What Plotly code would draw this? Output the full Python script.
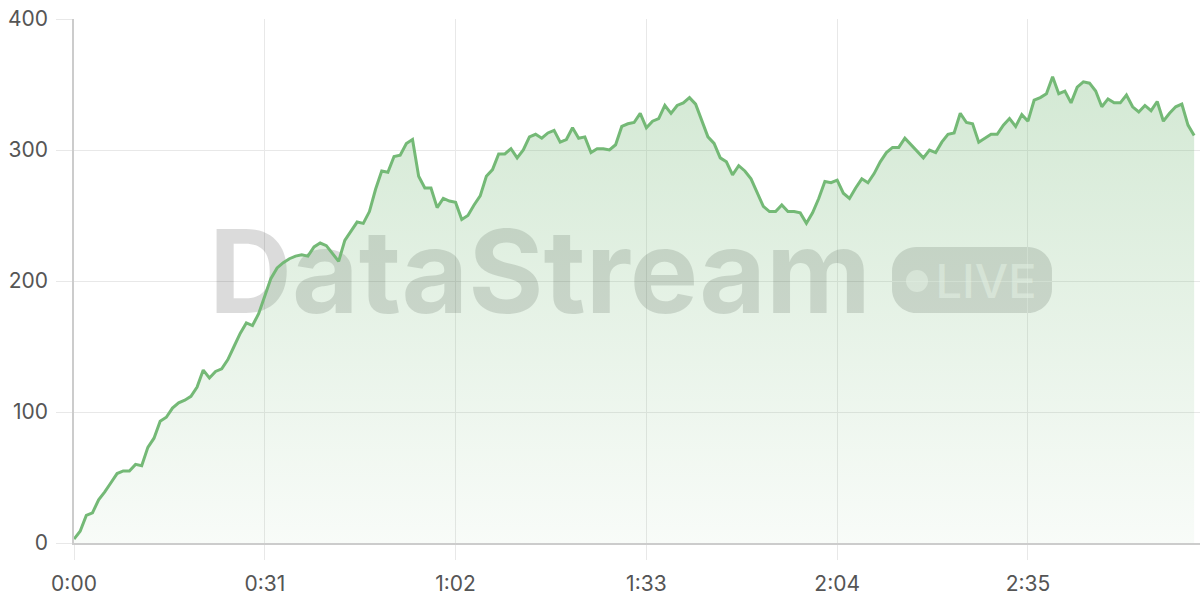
import plotly.graph_objects as go

# ---------------- data ----------------
seconds = list(range(183))
values = [
    3, 9, 21, 23, 33, 39, 46, 53, 55, 55, 60, 59, 73, 80, 93, 96, 103, 107, 109, 112,
    119, 132, 126, 131, 133, 140, 150, 160, 168, 166, 175, 188, 202, 210, 214, 217, 219, 220, 219, 226,
    229, 227, 221, 215, 231, 238, 245, 244, 253, 270, 284, 283, 295, 296, 305, 308, 280, 271, 271, 256,
    263, 261, 260, 247, 250, 258, 265, 280, 285, 297, 297, 301, 294, 300, 310, 312, 309, 313, 315, 306,
    308, 317, 309, 310, 298, 301, 301, 300, 304, 318, 320, 321, 328, 317, 322, 324, 334, 328, 334, 336,
    340, 335, 322, 310, 305, 294, 291, 281, 288, 284, 278, 268, 257, 253, 253, 258, 253, 253, 252, 244,
    252, 263, 276, 275, 277, 267, 263, 271, 278, 275, 282, 291, 298, 302, 302, 309, 304, 299, 294, 300,
    298, 306, 312, 313, 328, 321, 320, 306, 309, 312, 312, 319, 324, 318, 327, 322, 338, 340, 343, 356,
    343, 345, 336, 348, 352, 351, 345, 333, 339, 336, 336, 342, 333, 329, 334, 330, 337, 322, 328, 333,
    335, 319, 311,
]
x_tick_labels = ["0:00", "0:31", "1:02", "1:33", "2:04", "2:35"]
y_tick_values = [0, 100, 200, 300, 400]
watermark_text = "DataStream"
badge_text = "LIVE"


def to_seconds(label):
    m, s = label.split(":")
    return int(m) * 60 + int(s)


x_tick_values = [to_seconds(l) for l in x_tick_labels]

# ---------------- layout constants ----------------
W, H = 1200, 600
ML, MR, MT, MB = 74, 0, 19, 57
PW, PH = W - ML - MR, H - MT - MB
XMAX = 182.95
YMAX = 400

LINE = "#74b976"
GRID = "#e8e8e8"
AXIS = "#cccccc"
TICKFONT = dict(family="Inter, Roboto, sans-serif", size=21, color="#555555")


def px_to_data(px, py):
    return (px - ML) / PW * XMAX, (H - MB - py) / PH * YMAX


def px_to_paper(px, py):
    return (px - ML) / PW, (H - MB - py) / PH


def rounded_rect_path(x0, y0, x1, y1, r):
    k = 0.5523 * r

    def P(px, py):
        a, b = px_to_paper(px, py)
        return f"{a:.5f},{b:.5f}"

    d = f"M {P(x0 + r, y0)} L {P(x1 - r, y0)} "
    d += f"C {P(x1 - r + k, y0)} {P(x1, y0 + r - k)} {P(x1, y0 + r)} "
    d += f"L {P(x1, y1 - r)} "
    d += f"C {P(x1, y1 - r + k)} {P(x1 - r + k, y1)} {P(x1 - r, y1)} "
    d += f"L {P(x0 + r, y1)} "
    d += f"C {P(x0 + r - k, y1)} {P(x0, y1 - r + k)} {P(x0, y1 - r)} "
    d += f"L {P(x0, y0 + r)} "
    d += f"C {P(x0, y0 + r - k)} {P(x0 + r - k, y0)} {P(x0 + r, y0)} Z"
    return d


WM_COLOR = "rgba(0,0,0,0.14)"
wm_x, wm_y = px_to_data(540, 284)
live_x, live_y = px_to_data(986, 286)
dot_x, dot_y = px_to_data(917, 281)

fig = go.Figure()

# watermark (drawn beneath the data)
fig.add_trace(go.Scatter(
    x=[wm_x], y=[wm_y], mode="text", text=[watermark_text],
    textposition="middle center",
    textfont=dict(family="Inter, Roboto, sans-serif", size=115, color=WM_COLOR, weight=700),
    hoverinfo="skip", showlegend=False, cliponaxis=False,
))
fig.add_trace(go.Scatter(
    x=[live_x], y=[live_y], mode="text", text=[badge_text],
    textposition="middle center",
    textfont=dict(family="Inter, Roboto, sans-serif", size=47, color="rgba(255,255,255,0.55)", weight=500),
    hoverinfo="skip", showlegend=False, cliponaxis=False,
))
fig.add_trace(go.Scatter(
    x=[dot_x], y=[dot_y], mode="markers",
    marker=dict(size=22, color="rgba(255,255,255,0.55)", line=dict(width=0)),
    hoverinfo="skip", showlegend=False, cliponaxis=False,
))

# data
fig.add_trace(go.Scatter(
    x=seconds, y=values, mode="lines",
    line=dict(color=LINE, width=3),
    fill="tozeroy",
    fillgradient=dict(
        type="vertical",
        colorscale=[[0, "rgba(118,185,120,0.05)"], [1, "rgba(118,185,120,0.32)"]],
        start=0, stop=max(values),
    ),
    showlegend=False,
))

fig.add_shape(
    type="path", xref="paper", yref="paper", layer="between",
    path=rounded_rect_path(892, 247, 1052, 313, 24),
    fillcolor=WM_COLOR, line=dict(width=0),
)

fig.update_layout(
    width=W, height=H,
    margin=dict(l=ML, r=MR, t=MT, b=MB, pad=0),
    paper_bgcolor="white", plot_bgcolor="white",
    showlegend=False,
    xaxis=dict(
        range=[0, XMAX], tickvals=x_tick_values, ticktext=x_tick_labels,
        showgrid=True, gridcolor=GRID, gridwidth=1,
        zeroline=False, showline=True, linecolor=AXIS, linewidth=2,
        ticks="outside", ticklen=15, tickcolor=GRID, tickwidth=1,
        tickfont=TICKFONT, ticklabelstandoff=6,
    ),
    yaxis=dict(
        range=[0, YMAX], tickvals=y_tick_values,
        showgrid=True, gridcolor=GRID, gridwidth=1,
        zeroline=False, showline=True, linecolor=AXIS, linewidth=1.5,
        ticks="outside", ticklen=16, tickcolor=GRID, tickwidth=1,
        tickfont=TICKFONT, ticklabelstandoff=4,
    ),
)

fig.write_html(
    "out.html",
    config={"displayModeBar": False},
    post_script="document.body.style.margin='0';",
)
